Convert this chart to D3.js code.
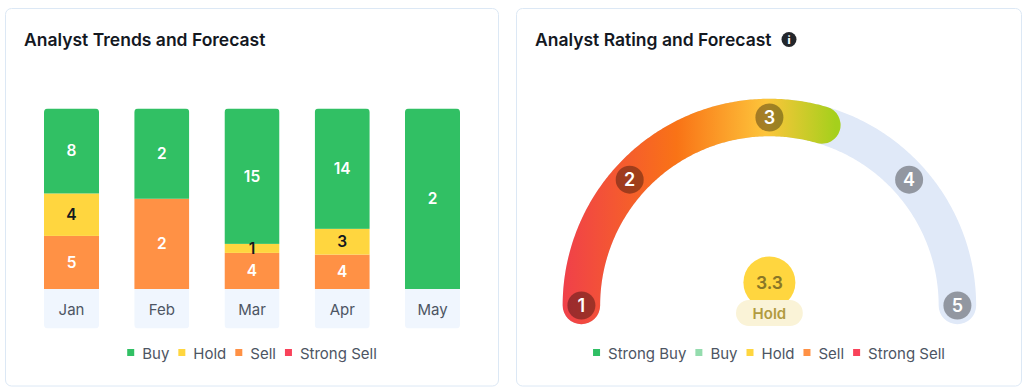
<!DOCTYPE html>
<html>
<head>
<meta charset="utf-8">
<script src="https://cdn.jsdelivr.net/npm/d3@7"></script>
<style>
  html, body { margin: 0; padding: 0; background: #fff; }
  svg { display: block; }
  text { font-family: Inter, "Noto Sans", sans-serif; }
</style>
</head>
<body>
<svg id="chart" width="1024" height="388"></svg>
<script>
  const MONTHS = ["Jan", "Feb", "Mar", "Apr", "May"];
  const BUY = [8, 2, 15, 14, 2];
  const HOLD = [4, 0, 1, 3, 0];
  const SELL = [5, 2, 4, 4, 0];
  const STRONG_SELL = [0, 0, 0, 0, 0];

  const TREND_SERIES = ["Buy", "Hold", "Sell", "Strong Sell"];
  const TREND_COLORS = ["#31c064", "#ffd63f", "#ff9145", "#f9425a"];

  const RATING_TICKS = [1, 2, 3, 4, 5];
  const RATING_TICK_ANGLES = [-90, -48, 0, 48, 90];
  const RATING = 3.3;
  const RATING_LABEL = "Hold";
  const RATING_LEGEND = ["Strong Buy", "Buy", "Hold", "Sell", "Strong Sell"];
  const RATING_LEGEND_COLORS = ["#2fbf64", "#94dcae", "#ffd63f", "#ff9145", "#f9425a"];

  const svg = d3.select("#chart");

  // cards
  svg.selectAll("rect.card")
    .data([[5.5, 493], [516.5, 505]])
    .enter()
    .append("rect")
    .classed("card", true)
    .attr("x", d => d[0])
    .attr("y", 8.5)
    .attr("width", d => d[1])
    .attr("height", 377.5)
    .attr("rx", 6)
    .attr("fill", "#fff")
    .attr("stroke", "#dce8f5");

  function title(x, label) {
    return svg.append("text")
      .attr("x", x)
      .attr("y", 46)
      .attr("font-size", 17.5)
      .attr("font-weight", 600)
      .attr("fill", "#14181f")
      .text(label);
  }

  // flex style legend, centred on cx
  function legend(cx, names, colors) {
    const g = svg.append("g").attr("transform", "translate(0, 353)");
    const items = g.selectAll("g")
      .data(names)
      .enter()
      .append("g");
    items.append("rect")
      .attr("y", -4)
      .attr("width", 7)
      .attr("height", 7)
      .attr("fill", (d, i) => colors[i]);
    items.append("text")
      .attr("x", 15)
      .attr("y", 5.5)
      .attr("font-size", 15)
      .attr("fill", "#4d5563")
      .text(d => d);
    let x = 0;
    const lefts = [];
    items.select("text").each(function () {
      lefts.push(x);
      x += 15 + this.getComputedTextLength() + 9;
    });
    const start = cx - (x - 9) / 2;
    items.attr("transform", (d, i) => `translate(${start + lefts[i]}, 0)`);
  }

  // left card: 100% stacked bars
  title(24, "Analyst Trends and Forecast");

  const BAR_TOP = 108.5;
  const BAR_BOTTOM = 289;
  const BOX_BOTTOM = 328.5;

  const rows = MONTHS.map((m, i) => ({
    month: m,
    "Buy": BUY[i],
    "Hold": HOLD[i],
    "Sell": SELL[i],
    "Strong Sell": STRONG_SELL[i],
  }));

  // green sits on top, so stack from the bottom up in reverse
  const stacked = d3.stack()
    .keys(TREND_SERIES.slice().reverse())
    .offset(d3.stackOffsetExpand)(rows);

  const xScale = d3.scaleBand()
    .domain(MONTHS)
    .range([44, 460])
    .paddingInner(0.39)
    .paddingOuter(0);
  const yScale = d3.scaleLinear().domain([0, 1]).range([BAR_BOTTOM, BAR_TOP]);
  const colorScale = d3.scaleOrdinal().domain(TREND_SERIES).range(TREND_COLORS);

  // rounded outer corners on every column
  const defs = svg.append("defs");
  defs.selectAll("clipPath")
    .data(MONTHS)
    .enter()
    .append("clipPath")
    .attr("id", d => `col-${d}`)
    .append("rect")
    .attr("x", d => xScale(d))
    .attr("y", BAR_TOP)
    .attr("width", xScale.bandwidth())
    .attr("height", BOX_BOTTOM - BAR_TOP)
    .attr("rx", 4);

  const columns = svg.selectAll("g.col")
    .data(MONTHS)
    .enter()
    .append("g")
    .classed("col", true)
    .attr("clip-path", d => `url(#col-${d})`);

  columns.append("rect")
    .attr("x", d => xScale(d))
    .attr("y", BAR_BOTTOM)
    .attr("width", xScale.bandwidth())
    .attr("height", BOX_BOTTOM - BAR_BOTTOM)
    .attr("fill", "#f0f6fe");

  const segments = m => stacked.map(s => {
    const d = s.find(p => p.data.month === m);
    return { key: s.key, month: m, y0: d[0], y1: d[1], value: d.data[s.key] };
  });

  columns.selectAll("rect.seg")
    .data(segments)
    .enter()
    .append("rect")
    .classed("seg", true)
    .attr("x", d => xScale(d.month))
    .attr("y", d => yScale(d.y1))
    .attr("width", xScale.bandwidth())
    .attr("height", d => yScale(d.y0) - yScale(d.y1))
    .attr("fill", d => colorScale(d.key));

  columns.selectAll("text.value")
    .data(m => segments(m).filter(d => d.value > 0))
    .enter()
    .append("text")
    .classed("value", true)
    .attr("x", d => xScale(d.month) + xScale.bandwidth() / 2)
    .attr("y", d => (yScale(d.y0) + yScale(d.y1)) / 2 + 5.5)
    .attr("text-anchor", "middle")
    .attr("font-size", 15.5)
    .attr("font-weight", 600)
    .attr("fill", d => d.key === "Hold" ? "#14181f" : "#fff")
    .text(d => d.value);

  // x axis sits inside the pale boxes
  const xAxis = svg.append("g")
    .attr("transform", `translate(0, ${BAR_BOTTOM})`)
    .call(d3.axisBottom(xScale).tickSize(0).tickPadding(15));
  xAxis.select(".domain").remove();
  xAxis.selectAll("text")
    .attr("font-family", "Inter, 'Noto Sans', sans-serif")
    .attr("font-size", 15)
    .attr("fill", "#4d5563");

  legend(252, TREND_SERIES, TREND_COLORS);

  // right card: rating gauge
  title(535, "Analyst Rating and Forecast");

  const info = svg.append("g").attr("transform", "translate(789, 39.5)");
  info.append("circle").attr("r", 7.5).attr("fill", "#23262b");
  info.append("text")
    .attr("y", 4)
    .attr("text-anchor", "middle")
    .attr("font-size", 11)
    .attr("font-weight", 800)
    .attr("fill", "#fff")
    .text("i");

  const GAUGE_R = 188;
  const GAUGE_W = 37.5;
  const toRad = d => d * Math.PI / 180;

  const ratingAngle = d3.scaleLinear()
    .domain(RATING_TICKS)
    .range(RATING_TICK_ANGLES.map(toRad));

  const gauge = svg.append("g").attr("transform", "translate(769.4, 305.5)");

  const gradient = defs.append("linearGradient")
    .attr("id", "gaugeFill")
    .attr("gradientUnits", "userSpaceOnUse")
    .attr("x1", -207)
    .attr("x2", 72)
    .attr("y1", 0)
    .attr("y2", 0);
  gradient.selectAll("stop")
    .data([[0, "#f0404a"], [0.41, "#f97316"], [0.73, "#fdc53b"], [0.98, "#a5d01c"]])
    .enter()
    .append("stop")
    .attr("offset", d => d[0])
    .attr("stop-color", d => d[1]);

  const arcLine = d3.lineRadial().angle(d => d).radius(GAUGE_R);
  const sweep = (a0, a1) => d3.range(a0, a1, 0.01).concat(a1);
  const gaugeEnds = ratingAngle.range();

  gauge.append("path")
    .attr("d", arcLine(sweep(gaugeEnds[0], gaugeEnds[4])))
    .attr("fill", "none")
    .attr("stroke", "#e0e9f8")
    .attr("stroke-width", GAUGE_W)
    .attr("stroke-linecap", "round");

  // the filled arc runs a little past the score in the original
  gauge.append("path")
    .attr("d", arcLine(sweep(gaugeEnds[0], ratingAngle(RATING) + toRad(1.8))))
    .attr("fill", "none")
    .attr("stroke", "url(#gaugeFill)")
    .attr("stroke-width", GAUGE_W)
    .attr("stroke-linecap", "round");

  const nodes = gauge.selectAll("g.node")
    .data(RATING_TICKS)
    .enter()
    .append("g")
    .classed("node", true)
    .attr("transform", d => `translate(${d3.pointRadial(ratingAngle(d), GAUGE_R)})`);
  nodes.append("circle")
    .attr("r", 14)
    .attr("fill", "rgba(0,0,0,0.35)");
  nodes.append("text")
    .attr("y", 6.5)
    .attr("text-anchor", "middle")
    .attr("font-size", 18)
    .attr("font-weight", 600)
    .attr("fill", "#fff")
    .text(d => d);

  // score badge
  gauge.append("circle")
    .attr("cy", -23)
    .attr("r", 26)
    .attr("fill", "#ffd63f");
  gauge.append("text")
    .attr("y", -16.5)
    .attr("text-anchor", "middle")
    .attr("font-size", 17.5)
    .attr("font-weight", 600)
    .attr("fill", "#8a7727")
    .text(RATING);
  gauge.append("rect")
    .attr("x", -33.4)
    .attr("y", -5.5)
    .attr("width", 66.8)
    .attr("height", 26)
    .attr("rx", 13)
    .attr("fill", "#faf3d7");
  gauge.append("text")
    .attr("y", 13)
    .attr("text-anchor", "middle")
    .attr("font-size", 15)
    .attr("font-weight", 600)
    .attr("fill", "#b19b40")
    .text(RATING_LABEL);

  legend(769, RATING_LEGEND, RATING_LEGEND_COLORS);
</script>
</body>
</html>
